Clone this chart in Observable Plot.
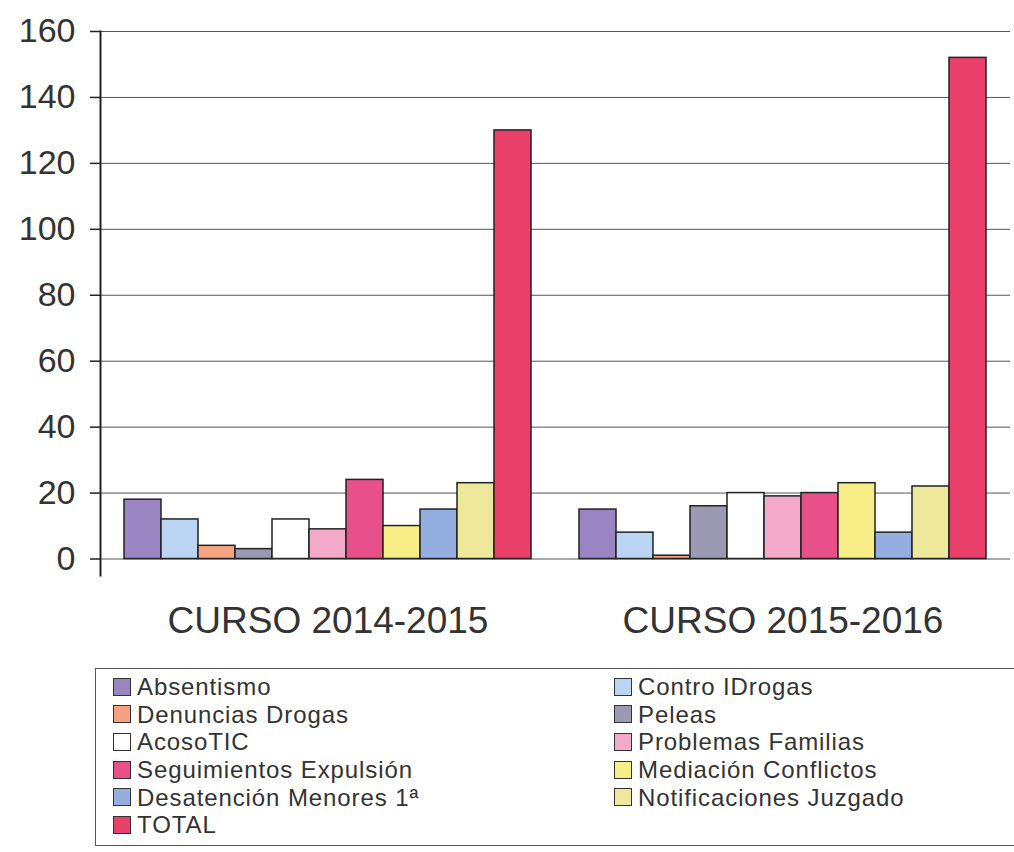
<!DOCTYPE html>
<html>
<head>
<meta charset="utf-8">
<script src="https://cdn.jsdelivr.net/npm/d3@7"></script>
<script src="https://cdn.jsdelivr.net/npm/@observablehq/plot@0.6"></script>
<style>
  html, body { margin: 0; padding: 0; background: #fff; overflow: hidden; }
  body { width: 1014px; height: 852px; font-family: "Liberation Sans", Arial, sans-serif; }
  #legend {
    margin-left: 95px;
    margin-top: 8px;
    width: 940px;
    height: 178px;
    box-sizing: border-box;
    border: 1.5px solid #555;
    border-right: none;
    padding: 4px 0 0 17px;
    display: grid;
    grid-template-columns: 501px auto;
    grid-auto-rows: 27.6px;
    font-size: 24px;
    letter-spacing: 0.9px;
    color: #333;
  }
  .item { display: flex; align-items: center; white-space: nowrap; line-height: 27px; }
  .sw { width: 16px; height: 16px; border: 1.5px solid #333; margin-right: 6px; flex: none; }
</style>
</head>
<body>
<div id="chart"></div>
<div id="legend"></div>
<script>
const cursos = ["CURSO 2014-2015", "CURSO 2015-2016"];
const series = ["Absentismo", "Contro IDrogas", "Denuncias Drogas", "Peleas", "AcosoTIC",
  "Problemas Familias", "Seguimientos Expulsión", "Mediación Conflictos",
  "Desatención Menores 1ª", "Notificaciones Juzgado", "TOTAL"];
const colors = ["#9a84c2", "#bcd4f4", "#f4a282", "#9c9ab2", "#ffffff",
  "#f2aac8", "#e8508a", "#f8ee88", "#94aee0", "#eee89c", "#e8406a"];
const values2014 = [18, 12, 4, 3, 12, 9, 24, 10, 15, 23, 130];
const values2015 = [15, 8, 1, 16, 20, 19, 20, 23, 8, 22, 152];
const yTicks = [0, 20, 40, 60, 80, 100, 120, 140, 160];

const data = [];
[values2014, values2015].forEach((vals, g) => {
  vals.forEach((v, i) => data.push({curso: cursos[g], serie: series[i], value: v}));
});

const chart = Plot.plot({
  width: 1014,
  height: 660,
  marginTop: 31,
  marginBottom: 85,
  marginLeft: 100,
  marginRight: 4,
  style: {fontFamily: "Liberation Sans, Arial, sans-serif", color: "#333", background: "#fff"},
  fx: {domain: cursos, padding: 0, label: null},
  x: {domain: series, paddingInner: 0, paddingOuter: 0.53, axis: null},
  y: {domain: [-5, 160], label: null},
  color: {domain: series, range: colors},
  marks: [
    Plot.ruleY(yTicks, {stroke: "#555", strokeWidth: 1}),
    Plot.barY(data, {fx: "curso", x: "serie", y: "value", fill: "serie", stroke: "#222", strokeWidth: 1.5}),
    Plot.axisY({ticks: yTicks, tickSize: 10, tickPadding: 15, fontSize: 34, stroke: "#222", strokeWidth: 1.5, label: null}),
    Plot.frame({anchor: "left", stroke: "#222", strokeWidth: 2, facetAnchor: "left"}),
    Plot.axisFx({anchor: "bottom", tickSize: 0, tickPadding: 31, fontSize: 37, label: null})
  ]
});
document.getElementById("chart").appendChild(chart);

const legend = d3.select("#legend");
series.forEach((s, i) => {
  const it = legend.append("div").attr("class", "item");
  it.append("div").attr("class", "sw").style("background", colors[i]);
  it.append("span").text(s);
});
</script>
</body>
</html>
